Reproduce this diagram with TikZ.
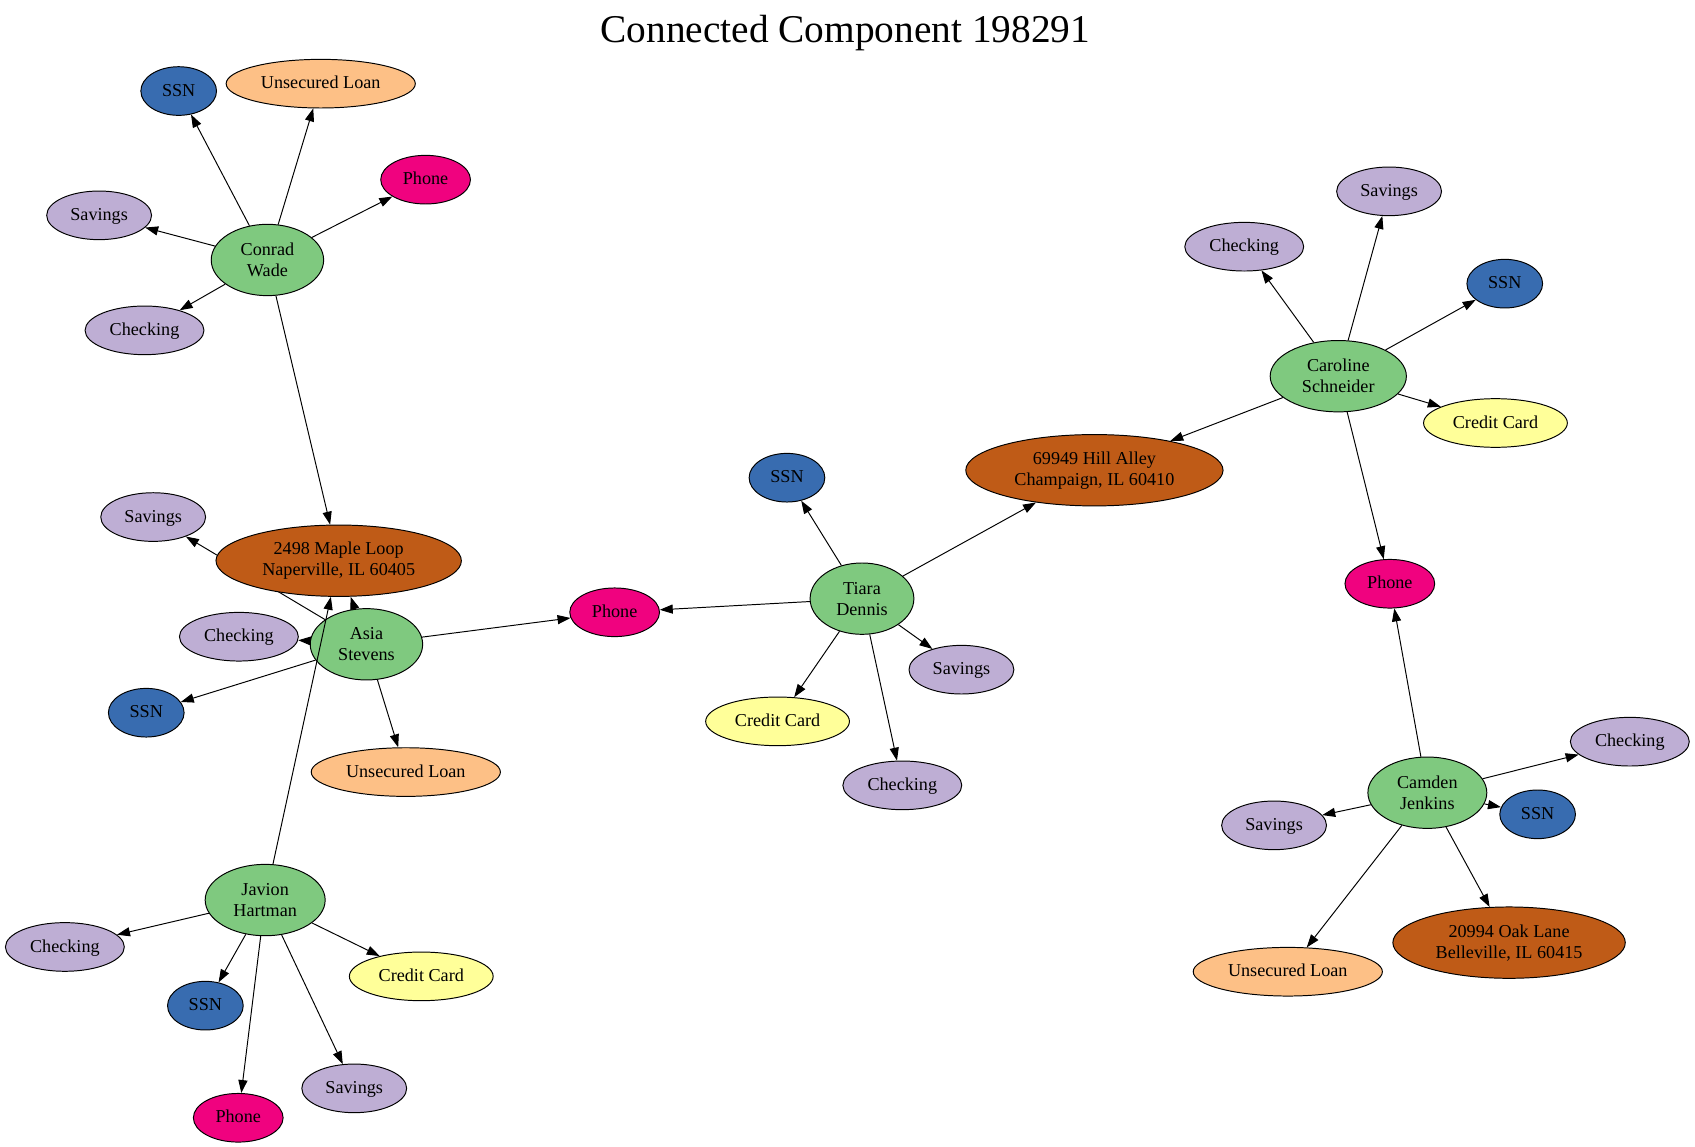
\documentclass[tikz,border=0pt]{standalone}
\usepackage{fontspec}
\setmainfont{Liberation Serif}
\usepackage{xcolor}
\usetikzlibrary{shapes.geometric,arrows.meta,backgrounds}
\definecolor{person-green}{HTML}{7FC97F}
\definecolor{account-purple}{HTML}{BEAED4}
\definecolor{loan-orange}{HTML}{FDC086}
\definecolor{card-yellow}{HTML}{FFFF99}
\definecolor{ssn-blue}{HTML}{386CB0}
\definecolor{phone-pink}{HTML}{F0027F}
\definecolor{address-brown}{HTML}{BF5B17}
\tikzset{
    base-node/.style = {draw=black, ellipse, line width=0.9pt, inner sep=0pt, align=center, font=\fontsize{16.8}{19.5}\selectfont},
    person-node/.style = {base-node, fill=person-green, minimum height=66pt},
    address-node/.style = {base-node, fill=address-brown, minimum height=66pt},
    small-node/.style = {base-node, text height=12.6pt, text depth=3pt, minimum height=45pt},
    ssn-node/.style = {small-node, fill=ssn-blue, minimum width=70pt},
    phone-node/.style = {small-node, fill=phone-pink, minimum width=83pt},
    loan-node/.style = {small-node, fill=loan-orange, minimum width=175pt},
    card-node/.style = {small-node, fill=card-yellow, minimum width=133pt},
    savings-node/.style = {small-node, fill=account-purple, minimum width=97pt},
    checking-node/.style = {small-node, fill=account-purple, minimum width=110pt},
    link/.style = {line width=0.9pt, -{Triangle[length=12pt, width=8.4pt]}},
}

\begin{document}
\begin{tikzpicture}[x=1pt, y=-1pt]
\useasboundingbox (0,0) rectangle (1568,1061);
\node[anchor=base, font=\fontsize{36.4}{40}\selectfont] (title) at (782,39.5) {Connected Component 198291};

\node[person-node, minimum width=104pt] (conrad) at (247.4,240.5) {Conrad\\Wade};
\node[person-node, minimum width=104pt] (asia) at (339,596) {Asia\\Stevens};
\node[person-node, minimum width=111pt] (javion) at (245.3,832.6) {Javion\\Hartman};
\node[person-node, minimum width=96pt] (tiara) at (797.4,553.8) {Tiara\\Dennis};
\node[person-node, minimum width=126pt] (caroline) at (1238,348) {Caroline\\Schneider};
\node[person-node, minimum width=110pt] (camden) at (1320.4,733.3) {Camden\\Jenkins};

\node[address-node, minimum width=227pt] (maple) at (313.3,518.7) {2498 Maple Loop\\Naperville, IL 60405};
\node[address-node, minimum width=238pt] (hill) at (1012.4,435) {69949 Hill Alley\\Champaign, IL 60410};
\node[address-node, minimum width=215pt] (oak) at (1396,872) {20994 Oak Lane\\Belleville, IL 60415};

\node[ssn-node] (conrad-ssn) at (165.3,84.2) {SSN};
\node[ssn-node] (asia-ssn) at (135.3,659.3) {SSN};
\node[ssn-node] (javion-ssn) at (190,930.3) {SSN};
\node[ssn-node] (tiara-ssn) at (728,441.9) {SSN};
\node[ssn-node] (caroline-ssn) at (1392,262.4) {SSN};
\node[ssn-node] (camden-ssn) at (1422.4,753.3) {SSN};

\node[phone-node] (conrad-phone) at (393.7,166.2) {Phone};
\node[phone-node] (shared-phone) at (568.6,566.4) {Phone};
\node[phone-node] (javion-phone) at (220.4,1034) {Phone};
\node[phone-node] (caroline-phone) at (1285.7,540) {Phone};

\node[loan-node] (conrad-loan) at (296.7,77.4) {Unsecured Loan};
\node[loan-node] (asia-loan) at (375.4,714.2) {Unsecured Loan};
\node[loan-node] (camden-loan) at (1191.3,898.9) {Unsecured Loan};

\node[card-node] (javion-card) at (389.7,903.2) {Credit Card};
\node[card-node] (tiara-card) at (719.3,667.3) {Credit Card};
\node[card-node] (caroline-card) at (1383.4,391.3) {Credit Card};

\node[savings-node] (conrad-savings) at (91.7,199.2) {Savings};
\node[savings-node] (asia-savings) at (141.7,478.3) {Savings};
\node[savings-node] (javion-savings) at (327.7,1006.8) {Savings};
\node[savings-node] (tiara-savings) at (889.4,619.5) {Savings};
\node[savings-node] (caroline-savings) at (1285,177) {Savings};
\node[savings-node] (camden-savings) at (1178.6,763.5) {Savings};

\node[checking-node] (conrad-checking) at (133.7,305.6) {Checking};
\node[checking-node] (asia-checking) at (221,589) {Checking};
\node[checking-node] (javion-checking) at (60,876) {Checking};
\node[checking-node] (tiara-checking) at (834.7,726.5) {Checking};
\node[checking-node] (caroline-checking) at (1151,228.2) {Checking};
\node[checking-node] (camden-checking) at (1507.7,686.1) {Checking};

\begin{scope}[on background layer]
\draw[link] (conrad) -- (conrad-ssn);
\draw[link] (conrad) -- (conrad-loan);
\draw[link] (conrad) -- (conrad-phone);
\draw[link] (conrad) -- (conrad-savings);
\draw[link] (conrad) -- (conrad-checking);
\draw[link] (conrad) -- (maple);

\draw[link] (asia) -- (maple);
\draw[link] (asia) -- (asia-savings);
\draw[link] (asia) -- (asia-checking);
\draw[link] (asia) -- (asia-ssn);
\draw[link] (asia) -- (asia-loan);
\draw[link] (asia) -- (shared-phone);

\draw[link] (javion) -- (javion-checking);
\draw[link] (javion) -- (javion-ssn);
\draw[link] (javion) -- (javion-phone);
\draw[link] (javion) -- (javion-savings);
\draw[link] (javion) -- (javion-card);

\draw[link] (tiara) -- (shared-phone);
\draw[link] (tiara) -- (tiara-ssn);
\draw[link] (tiara) -- (hill);
\draw[link] (tiara) -- (tiara-savings);
\draw[link] (tiara) -- (tiara-card);
\draw[link] (tiara) -- (tiara-checking);

\draw[link] (caroline) -- (hill);
\draw[link] (caroline) -- (caroline-checking);
\draw[link] (caroline) -- (caroline-savings);
\draw[link] (caroline) -- (caroline-ssn);
\draw[link] (caroline) -- (caroline-card);
\draw[link] (caroline) -- (caroline-phone);

\draw[link] (camden) -- (caroline-phone);
\draw[link] (camden) -- (camden-checking);
\draw[link] (camden) -- (camden-ssn);
\draw[link] (camden) -- (camden-savings);
\draw[link] (camden) -- (camden-loan);
\draw[link] (camden) -- (oak);
\end{scope}

\draw[link] (javion) -- (maple);
\end{tikzpicture}
\end{document}
